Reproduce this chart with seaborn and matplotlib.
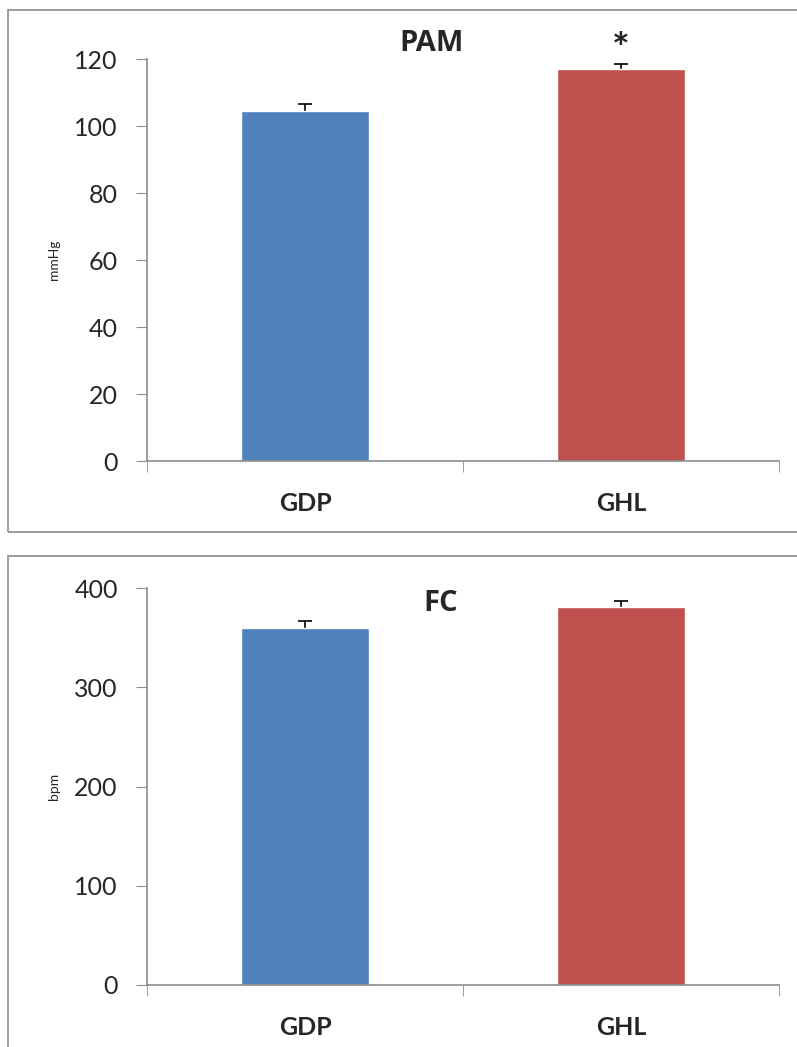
import matplotlib
matplotlib.use('Agg')
import matplotlib.pyplot as plt
import seaborn as sns
import pandas as pd
from matplotlib.patches import Rectangle

sns.set_style('white')
plt.rcParams['font.family'] = ['Lato', 'DejaVu Sans']

groups = ['GDP', 'GHL']
colors = ['#4F81BD', '#C0504D']

# PAM (mmHg)
pam_mean = [104.5, 117.0]
pam_err = [2.0, 1.5]
# FC (bpm)
fc_mean = [360, 381]
fc_err = [7, 6]

fig = plt.figure(figsize=(7.97, 10.47), dpi=100)

# panel frames like the excel chart areas
for y0, y1 in [(10, 532), (556, 1060)]:
    fig.patches.append(Rectangle((8 / 797, 1 - y1 / 1047), 1.0, (y1 - y0) / 1047,
                                 transform=fig.transFigure, fill=False,
                                 edgecolor='#8c8c8c', lw=1.2))

ax1 = fig.add_axes([147 / 797, 1 - 461 / 1047, 632 / 797, 402 / 1047])
ax2 = fig.add_axes([147 / 797, 1 - 985 / 1047, 632 / 797, 397 / 1047])


def draw(ax, means, errs, ymax, step, title, ylab, title_x, title_y):
    df = pd.DataFrame({'grupo': groups, 'valor': means})
    sns.barplot(data=df, x='grupo', y='valor', hue='grupo', palette=colors,
                width=0.405, legend=False, ax=ax, saturation=1, zorder=2)
    # symmetric bars drawn behind the columns, so only the upper half shows
    ax.errorbar(range(len(groups)), means, yerr=errs, fmt='none', ecolor='black',
                elinewidth=1.2, capsize=5, capthick=1.2, zorder=1)
    ax.set_xlim(-0.5, 1.5)
    ax.set_ylim(0, ymax)
    ax.set_yticks(range(0, ymax + 1, step))
    ax.set_xticks([0, 1])
    ax.set_xticks([-0.5, 0.5, 1.5], minor=True)
    ax.set_xticklabels(groups, fontsize=18, fontweight='bold')
    ax.tick_params(axis='x', which='major', length=0, pad=22)
    ax.tick_params(axis='x', which='minor', length=8, color='#8c8c8c', direction='out')
    ax.tick_params(axis='y', length=8, color='#8c8c8c', direction='out', labelsize=18, pad=13)
    ax.tick_params(axis='x', which='minor', bottom=True)
    ax.tick_params(axis='y', left=True)
    for s in ['top', 'right']:
        ax.spines[s].set_visible(False)
    for s in ['left', 'bottom']:
        ax.spines[s].set_color('#8c8c8c')
        ax.spines[s].set_linewidth(1.2)
    ax.set_xlabel('')
    ax.set_ylabel(ylab, fontsize=10, labelpad=10)
    ax.text(title_x, title_y, title, fontsize=21, fontweight='bold',
            ha='center', va='center', family=['Open Sans', 'DejaVu Sans'], clip_on=False)


draw(ax1, pam_mean, pam_err, 120, 20, 'PAM', 'mmHg', 0.40, 124.5)
ax1.text(1, 122.5, '*', fontsize=30, fontweight='bold', ha='center', va='center', clip_on=False)
draw(ax2, fc_mean, fc_err, 400, 100, 'FC', 'bpm', 0.43, 384)

fig.savefig('out.png', dpi=100)
